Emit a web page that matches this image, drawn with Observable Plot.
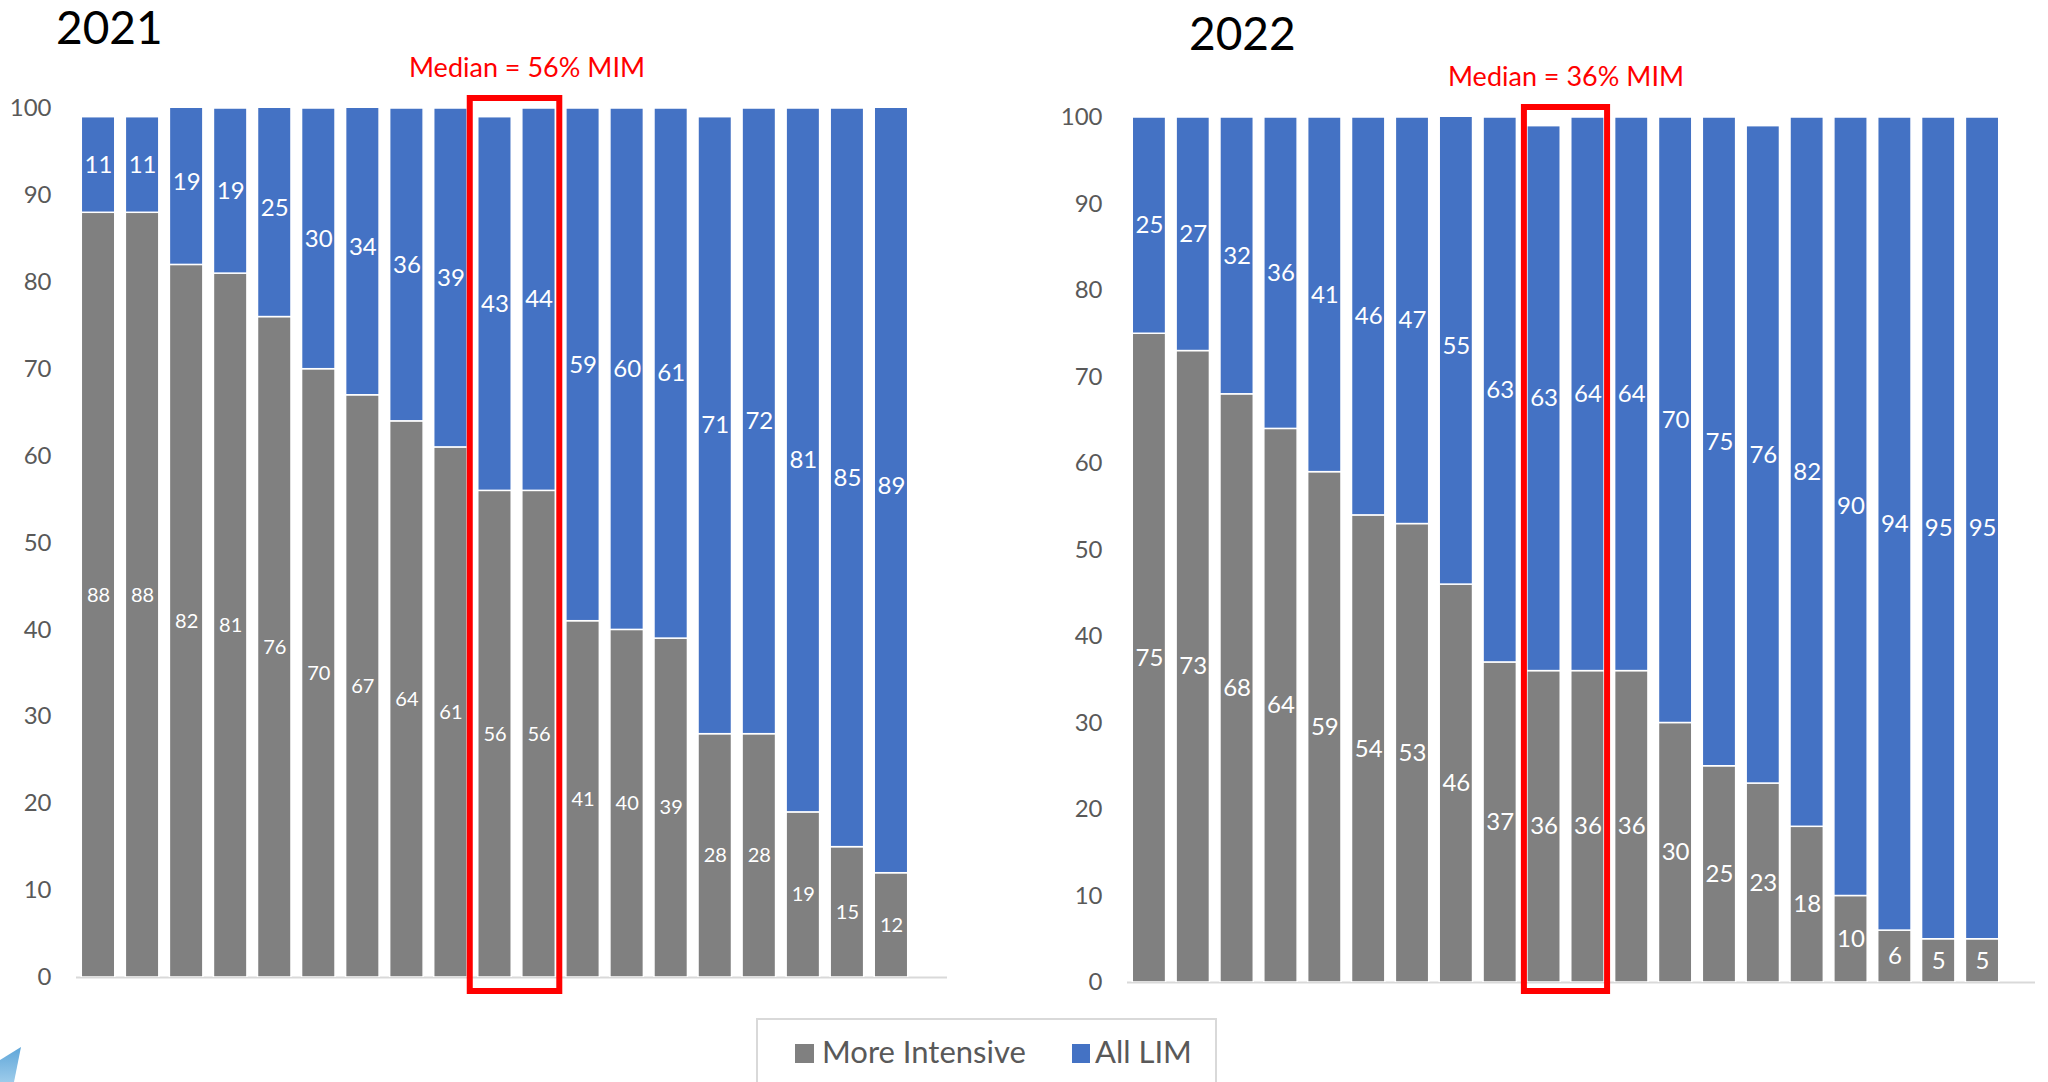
<!DOCTYPE html>
<html><head><meta charset="utf-8">
<script src="https://cdn.jsdelivr.net/npm/d3@7"></script>
<script src="https://cdn.jsdelivr.net/npm/@observablehq/plot@0.6"></script>
<style>
html,body{margin:0;padding:0;background:#fff;}
#page{position:relative;width:2048px;height:1082px;overflow:hidden;font-family:Lato,sans-serif;background:#fff;}
#page > svg{position:absolute;top:0;}
</style></head><body><div id="page"></div>
<script>
// ---- data ----
const years = ["2021", "2022"];
const seriesNames = ["More Intensive", "All LIM"];
const seriesColors = ["#808080", "#4472C4"];
const yTicks = [0, 10, 20, 30, 40, 50, 60, 70, 80, 90, 100];
const mim2021 = [88, 88, 82, 81, 76, 70, 67, 64, 61, 56, 56, 41, 40, 39, 28, 28, 19, 15, 12];
const lim2021 = [11, 11, 19, 19, 25, 30, 34, 36, 39, 43, 44, 59, 60, 61, 71, 72, 81, 85, 89];
const mim2022 = [75, 73, 68, 64, 59, 54, 53, 46, 37, 36, 36, 36, 30, 25, 23, 18, 10, 6, 5, 5];
const lim2022 = [25, 27, 32, 36, 41, 46, 47, 55, 63, 63, 64, 64, 70, 75, 76, 82, 90, 94, 95, 95];
const medianLabels = ["Median = 56% MIM", "Median = 36% MIM"];
const medianBars2021 = [10, 11];
const medianBars2022 = [10, 11];

function buildRows(mim, lim) {
  const rows = [];
  mim.forEach((m, i) => {
    rows.push({bar: i + 1, series: seriesNames[0], value: m, y1: 0, y2: m});
    rows.push({bar: i + 1, series: seriesNames[1], value: lim[i], y1: m, y2: m + lim[i]});
  });
  return rows;
}

const page = document.getElementById("page");

function drawChart(rows, L) {
  const bars = Array.from(new Set(rows.map(d => d.bar)));
  const p = Plot.plot({
    width: L.width, height: L.height,
    marginLeft: L.ml, marginRight: L.mr, marginTop: L.mt, marginBottom: L.mb,
    style: {background: "transparent", fontFamily: "Lato, sans-serif", fontSize: "24px", color: "#595959", overflow: "visible"},
    x: {type: "band", domain: bars, range: L.xRange, paddingInner: 0.24, paddingOuter: 0.12, round: false, axis: null},
    y: {domain: [0, 100], ticks: yTicks, tickSize: 0, tickPadding: 25, label: null},
    color: {domain: seriesNames, range: seriesColors},
    marks: [
      Plot.ruleY([0], {stroke: "#d9d9d9", strokeWidth: 2}),
      Plot.barY(rows, {x: "bar", y1: "y1", y2: "y2", fill: "series", stroke: "white", strokeWidth: 1.5, clip: true}),
      Plot.text(rows.filter(d => d.series === seriesNames[0]), {
        x: "bar", y: d => (d.y1 + d.y2) / 2, text: d => String(d.value),
        fill: "white", fontSize: L.mimFont, lineAnchor: "middle"}),
      Plot.text(rows.filter(d => d.series === seriesNames[1]), {
        x: "bar", y: d => (d.y1 + d.y2) / 2, text: d => String(d.value),
        fill: "white", fontSize: L.limFont, lineAnchor: "middle"})
    ]
  });
  p.style.left = L.left + "px";
  // median box, placed with the chart's own scales
  const xs = p.scale("x"), ys = p.scale("y");
  const x1 = xs.apply(L.box[0]) - L.boxPadL;
  const x2 = xs.apply(L.box[1]) + xs.bandwidth + L.boxPadR;
  const y1 = ys.apply(100) - L.boxPadT;
  const y2 = ys.apply(0) + L.boxPadB;
  d3.select(p).append("rect")
    .attr("x", x1).attr("y", y1).attr("width", x2 - x1).attr("height", y2 - y1)
    .attr("fill", "none").attr("stroke", "#FF0000").attr("stroke-width", 6);
  page.appendChild(p);
}

drawChart(buildRows(mim2021, lim2021), {
  left: 0, width: 960, height: 1010, ml: 76, mr: 13, mt: 108, mb: 33, xRange: [76, 913],
  mimFont: 20, limFont: 24, box: medianBars2021, boxPadL: 8, boxPadR: 4, boxPadT: 10, boxPadB: 14
});
drawChart(buildRows(mim2022, lim2022), {
  left: 1000, width: 1048, height: 1010, ml: 127, mr: 13, mt: 117, mb: 28, xRange: [127, 1004],
  mimFont: 24, limFont: 24, box: medianBars2022, boxPadL: 3, boxPadR: 3, boxPadT: 10, boxPadB: 9
});

// ---- titles, median notes, legend ----
const ov = d3.select(page).append("svg")
  .attr("width", 2048).attr("height", 1082)
  .style("left", "0px").style("pointer-events", "none")
  .style("font-family", "Lato, sans-serif");
ov.append("text").attr("x", 56).attr("y", 44).attr("font-size", 46).attr("fill", "#000").text(years[0]);
ov.append("text").attr("x", 1189).attr("y", 50).attr("font-size", 46).attr("fill", "#000").text(years[1]);
ov.append("text").attr("x", 527).attr("y", 77).attr("font-size", 27).attr("fill", "#FF0000").attr("text-anchor", "middle").text(medianLabels[0]);
ov.append("text").attr("x", 1566).attr("y", 86).attr("font-size", 27).attr("fill", "#FF0000").attr("text-anchor", "middle").text(medianLabels[1]);

// legend
const lg = ov.append("g");
lg.append("rect").attr("x", 757).attr("y", 1019).attr("width", 459).attr("height", 90)
  .attr("fill", "white").attr("stroke", "#d9d9d9").attr("stroke-width", 2);
lg.append("rect").attr("x", 795).attr("y", 1044).attr("width", 19).attr("height", 19).attr("fill", seriesColors[0]);
lg.append("text").attr("x", 822).attr("y", 1063).attr("font-size", 31).attr("fill", "#595959").text(seriesNames[0]);
lg.append("rect").attr("x", 1072).attr("y", 1044).attr("width", 18).attr("height", 19).attr("fill", seriesColors[1]);
lg.append("text").attr("x", 1095).attr("y", 1063).attr("font-size", 31).attr("fill", "#595959").text(seriesNames[1]);

// small decorative corner shape
const defs = ov.append("defs");
const gr = defs.append("linearGradient").attr("id", "cg").attr("x1", 0).attr("y1", 0).attr("x2", 0).attr("y2", 1);
gr.append("stop").attr("offset", 0).attr("stop-color", "#5fa6d9");
gr.append("stop").attr("offset", 1).attr("stop-color", "#9ccbea");
ov.append("polygon").attr("points", "0,1060 21,1047 14,1082 0,1082").attr("fill", "url(#cg)");
</script>
</body></html>
